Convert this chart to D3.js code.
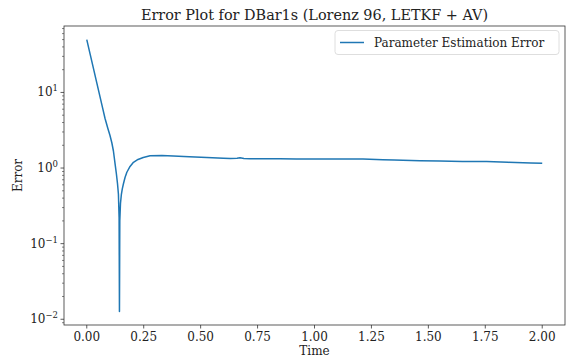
<!DOCTYPE html>
<html>
<head>
<meta charset="utf-8">
<script src="https://cdn.jsdelivr.net/npm/d3@7"></script>
<style>
  body { margin: 0; background: #fff; }
  text { font-family: "DejaVu Serif", serif; fill: #222; }
</style>
</head>
<body>
<div id="chart"></div>
<script>
// data
var times = [0, 0.015, 0.029, 0.044, 0.058, 0.07, 0.08, 0.092, 0.102, 0.11, 0.117, 0.124, 0.13, 0.135, 0.139,
  0.142, 0.1435, 0.145, 0.148, 0.152, 0.156, 0.161, 0.168, 0.176, 0.19, 0.205, 0.225, 0.248, 0.278, 0.33,
  0.38, 0.45, 0.527, 0.6, 0.63, 0.66, 0.673, 0.69, 0.717, 0.78, 0.849, 0.92, 1.0, 1.1, 1.213, 1.3,
  1.35, 1.463, 1.55, 1.6, 1.65, 1.756, 1.85, 1.95, 2.0];
var errors = [50, 31.9, 21.0, 13.4, 8.8, 6.15, 4.56, 3.39, 2.69, 2.16, 1.68, 1.15, 0.84, 0.62, 0.45,
  0.22, 0.0127, 0.2, 0.34, 0.45, 0.53, 0.62, 0.75, 0.88, 1.05, 1.19, 1.30, 1.38, 1.45, 1.46,
  1.44, 1.41, 1.38, 1.35, 1.34, 1.35, 1.37, 1.34, 1.33, 1.33, 1.33, 1.32, 1.32, 1.32, 1.32, 1.29,
  1.28, 1.25, 1.24, 1.23, 1.22, 1.22, 1.19, 1.17, 1.16];
var xTicks = [0, 0.25, 0.5, 0.75, 1.0, 1.25, 1.5, 1.75, 2.0];
var yExps = [-2, -1, 0, 1];
var seriesName = "Parameter Estimation Error";

var W = 567, H = 360;
var m = {left: 64, right: 565, top: 26, bottom: 325};

var svg = d3.select("#chart").append("svg")
  .attr("width", W)
  .attr("height", H);

// matplotlib style 5% margins
var x = d3.scaleLinear().domain([-0.1, 2.1]).range([m.left, m.right]);
var lo = Math.log10(d3.min(errors)), hi = Math.log10(d3.max(errors));
var pad = (hi - lo) * 0.05;
var y = d3.scaleLog().domain([Math.pow(10, lo - pad), Math.pow(10, hi + pad)]).range([m.bottom, m.top]);

// x ticks
var gx = svg.append("g");
xTicks.forEach(function(t) {
  gx.append("line")
    .attr("x1", x(t)).attr("x2", x(t))
    .attr("y1", m.bottom).attr("y2", m.bottom + 3.5)
    .attr("stroke", "#333").attr("stroke-width", 0.8);
  gx.append("text")
    .attr("x", x(t)).attr("y", m.bottom + 16)
    .attr("text-anchor", "middle")
    .style("font-size", "12px")
    .text(t.toFixed(2));
});

// y ticks (major + minor)
var gy = svg.append("g");
var dom = y.domain();
for (var e = -3; e <= 2; e++) {
  for (var k = 1; k <= 9; k++) {
    var v = k * Math.pow(10, e);
    if (v < dom[0] || v > dom[1]) continue;
    var len = k === 1 ? 3.5 : 2;
    gy.append("line")
      .attr("x1", m.left - len).attr("x2", m.left)
      .attr("y1", y(v)).attr("y2", y(v))
      .attr("stroke", "#333").attr("stroke-width", k === 1 ? 0.8 : 0.6);
  }
}
yExps.forEach(function(p) {
  var t = gy.append("text")
    .attr("x", m.left - 6).attr("y", y(Math.pow(10, p)) + 4)
    .attr("text-anchor", "end")
    .style("font-size", "12px");
  t.append("tspan").text("10");
  t.append("tspan")
    .attr("dy", -5)
    .style("font-size", "8.5px")
    .text(p < 0 ? "\u2212" + (-p) : String(p));
});

// line
var line = d3.line()
  .x(function(d, i) { return x(times[i]); })
  .y(function(d) { return y(d); });

svg.append("path")
  .datum(errors)
  .attr("fill", "none")
  .attr("stroke", "#1f77b4")
  .attr("stroke-width", 1.5)
  .attr("stroke-linejoin", "round")
  .attr("d", line);

// frame
svg.append("rect")
  .attr("x", m.left).attr("y", m.top)
  .attr("width", m.right - m.left).attr("height", m.bottom - m.top)
  .attr("fill", "none").attr("stroke", "#333").attr("stroke-width", 0.8);

// labels
svg.append("text")
  .attr("x", (m.left + m.right) / 2).attr("y", 20)
  .attr("text-anchor", "middle")
  .style("font-size", "14.4px")
  .text("Error Plot for DBar1s (Lorenz 96, LETKF + AV)");

svg.append("text")
  .attr("x", (m.left + m.right) / 2).attr("y", 355)
  .attr("text-anchor", "middle")
  .style("font-size", "12px")
  .text("Time");

svg.append("text")
  .attr("transform", "translate(22," + ((m.top + m.bottom) / 2) + ") rotate(-90)")
  .attr("text-anchor", "middle")
  .style("font-size", "12px")
  .text("Error");

// legend
var lg = svg.append("g");
lg.append("rect")
  .attr("x", 335).attr("y", 30.5)
  .attr("width", 224).attr("height", 24)
  .attr("rx", 3)
  .attr("fill", "#fff").attr("stroke", "#d6d6d6").attr("stroke-width", 0.8);
lg.append("line")
  .attr("x1", 340).attr("x2", 364)
  .attr("y1", 42.5).attr("y2", 42.5)
  .attr("stroke", "#1f77b4").attr("stroke-width", 1.5);
lg.append("text")
  .attr("x", 374).attr("y", 46.5)
  .style("font-size", "12px")
  .text(seriesName);
</script>
</body>
</html>
